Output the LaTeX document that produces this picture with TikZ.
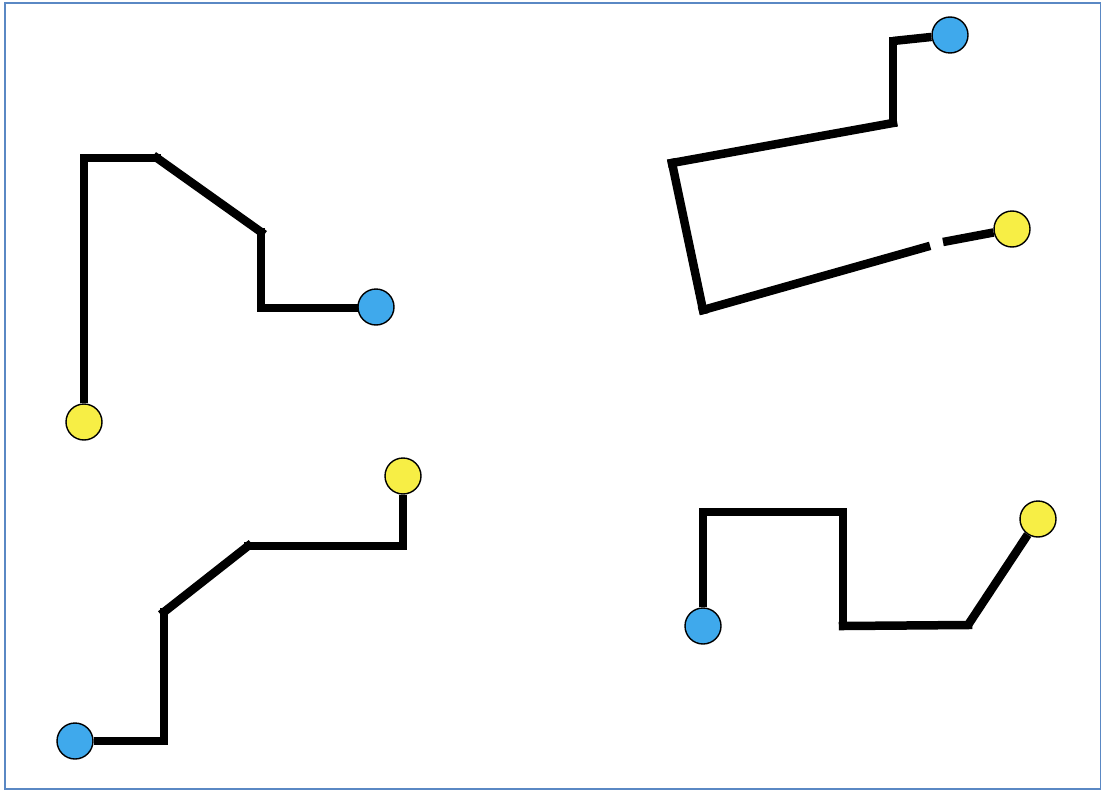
\documentclass[tikz,border=0pt]{standalone}
\usepackage{tikz}
\usetikzlibrary{positioning}
\definecolor{pinblue}{HTML}{3FA9EC}
\definecolor{pinyellow}{HTML}{F7EE45}
\definecolor{framecol}{HTML}{5A88C4}
\tikzset{
	wire/.style = {
			draw=black,
			line width=0.17cm,
			line cap=rect,
		},
	pinwire/.style = {wire, line cap=butt},
	endpt/.style = {
			circle,
			draw            = black,
			line width      = 0.8pt,
			minimum size    = 0.72cm,
			inner sep       = 0pt,
		},
	bluept/.style = {endpt, fill=pinblue},
	yellowpt/.style = {endpt, fill=pinyellow},
}

\begin{document}
\begin{tikzpicture}[x=0.02cm,y=-0.02cm]
		\useasboundingbox (0,0) rectangle (1101,794);
		\draw[framecol, line width=1.2pt] (5,3) rectangle (1101,789);

		% top left
		\foreach \n/\p in {a1/{84,158},a2/{157,158},a3/{261,232},a4/{261,308},a5/{356,308}}
		\coordinate (\n) at (\p);
		\foreach \u/\v in {a1/a2,a2/a3,a3/a4,a4/a5}
		\draw[wire] (\u) -- (\v);
		\node[yellowpt] (ya) at (84,422) {};
		\node[bluept] (ba) at (376,307) {};
		\draw[pinwire] (ya) -- (a1);

		% top right
		\foreach \n/\p in {b1/{893,41},b2/{893,123},b3/{672,163},b4/{703,310},b5/{926,247},b6/{943,242}}
		\coordinate (\n) at (\p);
		\foreach \u/\v in {b1/b2,b2/b3,b3/b4,b4/b5}
		\draw[wire] (\u) -- (\v);
		\node[bluept] (bb) at (950,35) {};
		\node[yellowpt] (yb) at (1012,229) {};
		\draw[pinwire] (bb) -- (b1);
		\draw[pinwire] (b6) -- (yb);

		% bottom left
		\foreach \n/\p in {c1/{164,741},c2/{164,612},c3/{248,546},c4/{403,546}}
		\coordinate (\n) at (\p);
		\foreach \u/\v in {c1/c2,c2/c3,c3/c4}
		\draw[wire] (\u) -- (\v);
		\node[bluept] (bc) at (75,741) {};
		\node[yellowpt] (yc) at (403,476) {};
		\draw[pinwire] (bc) -- (c1);
		\draw[pinwire] (c4) -- (yc);

		% bottom right
		\foreach \n/\p in {d1/{703,512},d2/{843,512},d3/{843,626},d4/{968,625}}
		\coordinate (\n) at (\p);
		\foreach \u/\v in {d1/d2,d2/d3,d3/d4}
		\draw[wire] (\u) -- (\v);
		\node[bluept] (bd) at (703,626) {};
		\node[yellowpt] (yd) at (1038,519) {};
		\draw[pinwire] (bd) -- (d1);
		\draw[pinwire] (d4) -- (yd);
	\end{tikzpicture}
\end{document}
